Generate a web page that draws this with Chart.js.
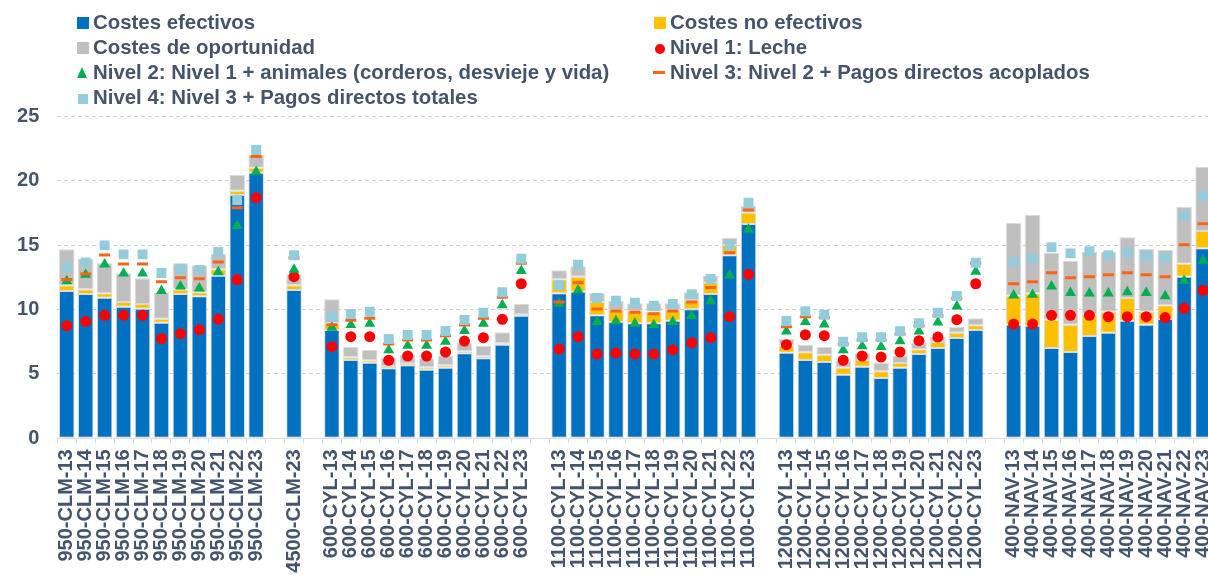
<!DOCTYPE html>
<html>
<head>
<meta charset="utf-8">
<script src="https://cdn.jsdelivr.net/npm/chart.js@4/dist/chart.umd.min.js"></script>
<style>
  html, body { margin: 0; padding: 0; background: #fff; overflow: hidden; width: 1208px; height: 575px; }
  #wrap { position: absolute; left: 0; top: 0; width: 1221px; height: 575px; }
  .lg { position: absolute; font-family: "Liberation Sans", Arial, sans-serif; font-weight: bold; font-size: 20.4px; line-height: 25px; color: #44546A; white-space: nowrap; }
  .mk { position: absolute; }
</style>
</head>
<body>
<div id="wrap"><canvas id="c"></canvas></div>

<div class="mk" style="left:77px;top:17px;width:12px;height:12px;background:#0070C0"></div>
<div class="lg" style="left:93px;top:10px">Costes efectivos</div>
<div class="mk" style="left:77px;top:42px;width:12px;height:12px;background:#BFBFBF"></div>
<div class="lg" style="left:93px;top:35px">Costes de oportunidad</div>
<div class="mk" style="left:77px;top:67px;width:0;height:0;border-left:5.5px solid transparent;border-right:5.5px solid transparent;border-bottom:11px solid #00B050"></div>
<div class="lg" style="left:93px;top:60px">Nivel 2: Nivel 1 + animales (corderos, desvieje y vida)</div>
<div class="mk" style="left:78px;top:94px;width:10px;height:10px;background:#93CDDD"></div>
<div class="lg" style="left:93px;top:85px">Nivel 4: Nivel 3 + Pagos directos totales</div>

<div class="mk" style="left:654px;top:17px;width:12px;height:12px;background:#FFC000"></div>
<div class="lg" style="left:670px;top:10px">Costes no efectivos</div>
<div class="mk" style="left:655px;top:44px;width:10px;height:10px;border-radius:50%;background:#FF0000"></div>
<div class="lg" style="left:670px;top:35px">Nivel 1: Leche</div>
<div class="mk" style="left:653px;top:71px;width:12px;height:3px;background:#FA6414"></div>
<div class="lg" style="left:670px;top:60px">Nivel 3: Nivel 2 + Pagos directos acoplados</div>

<script>
const categories = [
  '950-CLM-13','950-CLM-14','950-CLM-15','950-CLM-16','950-CLM-17','950-CLM-18','950-CLM-19','950-CLM-20','950-CLM-21','950-CLM-22','950-CLM-23',
  '',
  '4500-CLM-23',
  '',
  '600-CYL-13','600-CYL-14','600-CYL-15','600-CYL-16','600-CYL-17','600-CYL-18','600-CYL-19','600-CYL-20','600-CYL-21','600-CYL-22','600-CYL-23',
  '',
  '1100-CYL-13','1100-CYL-14','1100-CYL-15','1100-CYL-16','1100-CYL-17','1100-CYL-18','1100-CYL-19','1100-CYL-20','1100-CYL-21','1100-CYL-22','1100-CYL-23',
  '',
  '1200-CYL-13','1200-CYL-14','1200-CYL-15','1200-CYL-16','1200-CYL-17','1200-CYL-18','1200-CYL-19','1200-CYL-20','1200-CYL-21','1200-CYL-22','1200-CYL-23',
  '',
  '400-NAV-13','400-NAV-14','400-NAV-15','400-NAV-16','400-NAV-17','400-NAV-18','400-NAV-19','400-NAV-20','400-NAV-21','400-NAV-22','400-NAV-23'
];

const costesEfectivos = [
  11.44, 11.2, 10.92, 10.22, 10.06, 8.98, 11.2, 11.02, 12.63, 18.89, 20.62,
  null, 11.51, null,
  8.41, 6.08, 5.87, 5.43, 5.67, 5.33, 5.48, 6.6, 6.21, 7.27, 9.52,
  null,
  11.26, 11.38, 9.55, 9.03, 8.93, 8.93, 9.13, 10.01, 11.2, 14.21, 16.64,
  null,
  6.65, 6.08, 5.92, 4.94, 5.56, 4.68, 5.48, 6.55, 7.01, 7.79, 8.41,
  null,
  8.82, 8.74, 7.01, 6.7, 7.94, 8.2, 9.13, 8.82, 9.26, 12.55, 14.75
];
const costesNoEfectivos = [
  0.44, 0.37, 0.34, 0.36, 0.37, 0.31, 0.35, 0.31, 0.49, 0.33, 0.39,
  null, 0.37, null,
  0.52, 0.21, 0.19, 0.18, 0.18, 0.18, 0.19, 0.15, 0.16, 0.11, 0.13,
  null,
  1.08, 1.17, 1.03, 0.93, 0.95, 0.90, 0.83, 0.73, 0.88, 0.80, 0.88,
  null,
  0.57, 0.60, 0.57, 0.54, 0.52, 0.52, 0.37, 0.36, 0.47, 0.41, 0.36,
  null,
  2.25, 2.52, 2.20, 2.12, 1.66, 1.63, 1.76, 1.01, 1.07, 1.01, 1.35
];
const costesOportunidad = [
  2.79, 2.38, 2.33, 2.23, 1.99, 2.02, 2.04, 2.10, 1.19, 1.22, 1.01,
  null, 0.85, null,
  1.86, 0.82, 0.80, 0.65, 0.64, 0.70, 0.72, 0.67, 0.82, 0.85, 0.78,
  null,
  0.70, 0.80, 0.70, 0.70, 0.60, 0.65, 0.52, 0.60, 0.55, 0.57, 0.52,
  null,
  0.51, 0.59, 0.62, 0.52, 0.52, 0.65, 0.54, 0.51, 0.41, 0.44, 0.55,
  null,
  5.67, 6.10, 5.20, 4.97, 4.86, 4.66, 4.72, 4.89, 4.31, 4.40, 4.99
];
const nivel1 = [
  8.74, 9.08, 9.55, 9.55, 9.55, 7.74, 8.12, 8.43, 9.26, 12.32, 18.68,
  null, 12.55, null,
  7.11, 7.89, 7.89, 6.06, 6.39, 6.39, 6.7, 7.55, 7.81, 9.24, 12.0,
  null,
  6.93, 7.89, 6.54, 6.62, 6.54, 6.54, 6.86, 7.42, 7.81, 9.44, 12.73,
  null,
  7.27, 8.04, 7.97, 6.06, 6.39, 6.31, 6.7, 7.58, 7.86, 9.21, 12.0,
  null,
  8.87, 8.87, 9.55, 9.55, 9.55, 9.44, 9.44, 9.44, 9.37, 10.09, 11.49
];
const nivel2 = [
  12.2, 12.7, 13.5, 12.8, 12.8, 11.45, 11.8, 11.65, 12.9, 16.5, 20.7,
  null, 13.1, null,
  8.6, 8.8, 8.9, 6.85, 7.2, 7.2, 7.5, 8.35, 8.9, 10.35, 13.0,
  null,
  10.45, 11.5, 9.05, 9.1, 8.9, 8.8, 9.05, 9.5, 10.65, 12.65, 16.2,
  null,
  8.3, 9.05, 8.85, 6.85, 7.15, 7.1, 7.55, 8.3, 9.0, 10.25, 12.95,
  null,
  11.1, 11.15, 11.8, 11.3, 11.25, 11.25, 11.35, 11.3, 11.05, 12.25, 13.8
];
const nivel3 = [
  12.32, 12.76, 14.23, 13.53, 13.53, 12.16, 12.47, 12.39, 13.69, 17.9, 21.87,
  null, 14.02, null,
  8.82, 9.16, 9.32, 7.32, 7.63, 7.63, 7.97, 8.8, 9.32, 10.95, 13.59,
  null,
  10.58, 12.08, 10.04, 9.88, 9.78, 9.67, 9.88, 10.58, 11.7, 14.41, 17.73,
  null,
  8.67, 9.44, 9.36, 7.32, 7.63, 7.63, 8.1, 8.74, 9.52, 10.87, 13.61,
  null,
  12.0, 12.16, 12.86, 12.47, 12.55, 12.7, 12.86, 12.7, 12.55, 15.03, 16.66
];
const nivel4 = [
  13.25, 13.66, 14.98, 14.28, 14.28, 12.83, 13.17, 13.07, 14.46, 18.5, 22.38,
  null, 14.21, null,
  9.44, 9.65, 9.83, 7.71, 8.02, 8.02, 8.33, 9.18, 9.75, 11.34, 13.94,
  null,
  11.88, 13.48, 10.89, 10.68, 10.53, 10.3, 10.43, 11.18, 12.37, 14.98, 18.29,
  null,
  9.11, 9.86, 9.6, 7.5, 7.84, 7.84, 8.31, 8.93, 9.75, 11.05, 13.63,
  null,
  13.71, 13.98, 14.83, 14.36, 14.52, 14.21, 14.44, 14.13, 14.02, 17.28, 18.81
];
const yTicks = [0, 5, 10, 15, 20, 25];

const TXT = '#44546A';
const FONT = { family: '"Liberation Sans", Arial, sans-serif', size: 20, weight: 'bold' };

function barDs(label, data, color) {
  return { type: 'bar', label, data, backgroundColor: color, borderColor: 'rgba(215,215,215,0.9)',
           borderWidth: 1, borderSkipped: false, stack: 'costes', order: 10,
           barPercentage: 0.82, categoryPercentage: 1 };
}
function ptDs(label, data, style, radius, color, order, stackName, extra) {
  return Object.assign({ type: 'line', label, data, showLine: false, pointStyle: style,
           pointRadius: radius, pointHoverRadius: radius, pointBackgroundColor: color,
           pointBorderColor: color, pointBorderWidth: 0, order, stack: stackName, spanGaps: false }, extra || {});
}

new Chart(document.getElementById('c'), {
  data: {
    labels: categories,
    datasets: [
      barDs('Costes efectivos', costesEfectivos, '#0070C0'),
      barDs('Costes no efectivos', costesNoEfectivos, '#FFC000'),
      barDs('Costes de oportunidad', costesOportunidad, '#BFBFBF'),
      ptDs('Nivel 1: Leche', nivel1, 'circle', 5.5, '#FF0000', 4, 'p1'),
      ptDs('Nivel 2: Nivel 1 + animales (corderos, desvieje y vida)', nivel2, 'triangle', 6.3, '#00B050', 3, 'p2'),
      ptDs('Nivel 3: Nivel 2 + Pagos directos acoplados', nivel3, 'line', 5.5, '#FA6414', 2, 'p3', { pointBorderWidth: 3 }),
      ptDs('Nivel 4: Nivel 3 + Pagos directos totales', nivel4, 'rect', 7, '#93CDDD', 1, 'p4')
    ]
  },
  options: {
    responsive: true,
    maintainAspectRatio: false,
    animation: false,
    layout: { padding: { top: 116.3, right: 0, bottom: 0, left: 0 } },
    plugins: { legend: { display: false }, tooltip: { enabled: false } },
    scales: {
      x: {
        stacked: true,
        offset: true,
        grid: { display: true, drawOnChartArea: false, drawTicks: true, tickLength: 5, color: '#D9D9D9', offset: true },
        border: { display: true, color: '#D9D9D9', width: 1 },
        ticks: { autoSkip: false, minRotation: 90, maxRotation: 90, color: TXT, font: FONT, padding: 6 },
        afterFit(s) { s.height = 575 - 438.3; s.paddingLeft = 0; s.paddingRight = 0; }
      },
      y: {
        stacked: true,
        min: 0, max: 25,
        afterBuildTicks(s) { s.ticks = yTicks.map(v => ({ value: v })); },
        grid: { color: '#CFCFCF', drawTicks: false, lineWidth: 1 },
        border: { display: false, dash: [4, 3] },
        ticks: { color: TXT, font: FONT, padding: 18 },
        afterFit(s) { s.width = 57.3; }
      }
    }
  }
});
</script>
</body>
</html>
